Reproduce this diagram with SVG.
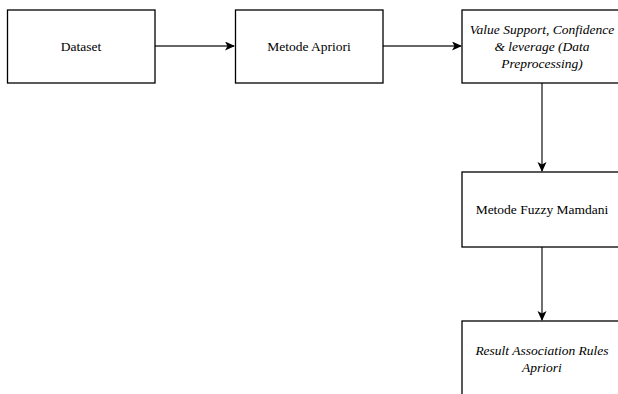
<svg xmlns="http://www.w3.org/2000/svg" width="618" height="394" viewBox="0 0 618 394">
<style>
.box{fill:#fff;stroke:#000;stroke-width:1.3}
.t{font-family:'Liberation Serif','Times New Roman','DejaVu Serif',serif;font-size:13.5px;fill:#000;text-anchor:middle;dominant-baseline:central}
.i{font-style:italic}
.c{fill:none;stroke:#333;stroke-width:1.4}
</style>
<defs>
<marker id="a" markerWidth="12" markerHeight="12" refX="9" refY="4.5" orient="auto" markerUnits="userSpaceOnUse">
<path d="M0,0 L10,4.5 L0,9 L2.5,4.5 Z" fill="#000"/>
</marker>
</defs>
<rect width="618" height="394" fill="#fff"/>
<g id="connectors">
<line class="c" x1="155" y1="46" x2="234" y2="46" marker-end="url(#a)"/>
<line class="c" x1="383" y1="46" x2="461" y2="46" marker-end="url(#a)"/>
<line class="c" x1="542" y1="83" x2="542" y2="171" marker-end="url(#a)"/>
<line class="c" x1="542" y1="247" x2="542" y2="320" marker-end="url(#a)"/>
</g>
<g id="dataset">
<rect class="box" x="7.5" y="10" width="147.5" height="73"/>
<text class="t" x="81" y="46">Dataset</text>
</g>
<g id="apriori">
<rect class="box" x="235.5" y="10" width="147.5" height="73"/>
<text class="t" x="309" y="46">Metode Apriori</text>
</g>
<g id="value">
<rect class="box" x="462" y="10" width="160" height="73"/>
<text class="t i" x="542" y="29">Value Support, Confidence</text>
<text class="t i" x="542" y="46">&amp; leverage (Data</text>
<text class="t i" x="542" y="63">Preprocessing)</text>
</g>
<g id="fuzzy">
<rect class="box" x="462" y="172" width="160" height="75"/>
<text class="t" x="542" y="209">Metode Fuzzy Mamdani</text>
</g>
<g id="result">
<rect class="box" x="462" y="321" width="160" height="80"/>
<text class="t i" x="542" y="350">Result Association Rules</text>
<text class="t i" x="542" y="367">Apriori</text>
</g>
</svg>
